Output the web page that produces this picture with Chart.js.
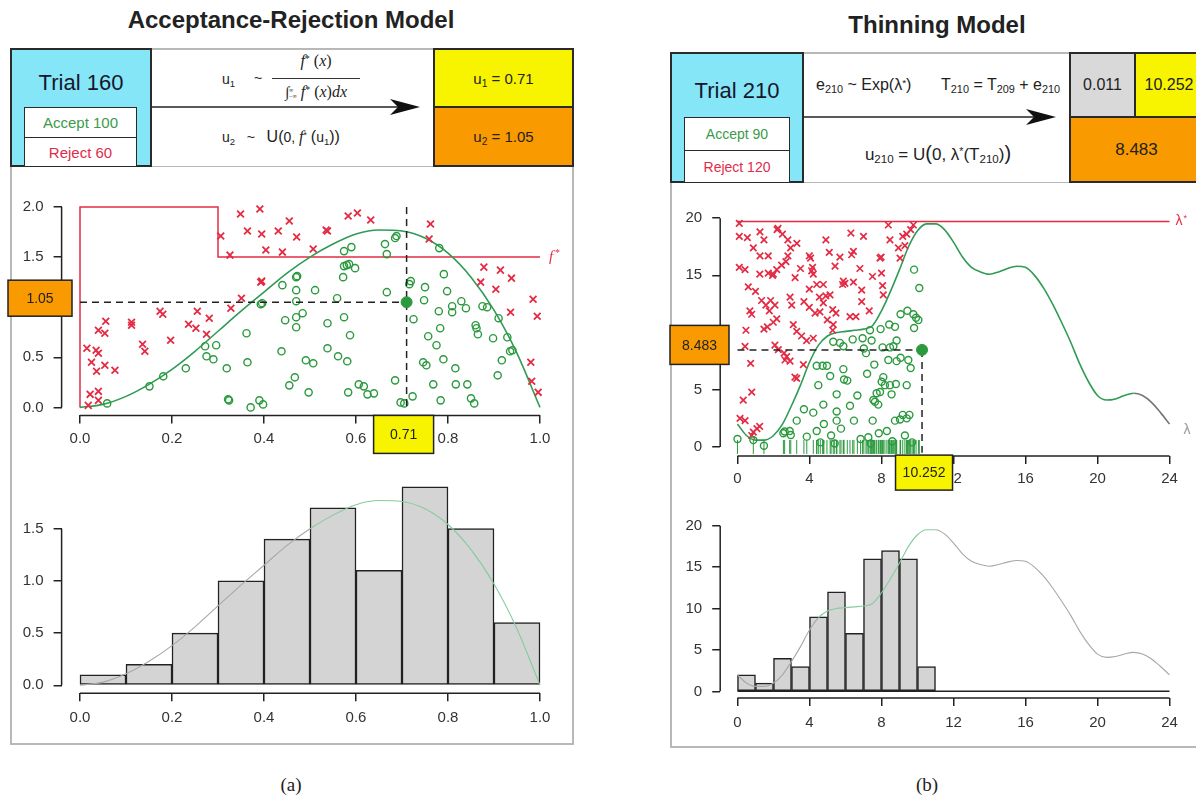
<!DOCTYPE html>
<html><head><meta charset="utf-8">
<script src="https://cdn.jsdelivr.net/npm/chart.js@4.4.1/dist/chart.umd.min.js"></script>
<style>
html,body{margin:0;padding:0;background:#fff;}
body{width:1196px;height:803px;overflow:hidden;position:relative;font-family:'Liberation Sans',Arial,Helvetica,sans-serif;color:#222;}
.abs{position:absolute;}
.bx{position:absolute;box-sizing:border-box;display:flex;align-items:center;justify-content:center;}
sub{font-size:0.68em;vertical-align:-0.3em;line-height:0;}
sup{font-size:0.62em;vertical-align:0.45em;line-height:0;}
.ser{font-family:'Liberation Serif','Times New Roman',serif;}
canvas{position:absolute;}
</style></head><body>

<!-- titles -->
<div class="abs" style="left:91px;top:5px;width:400px;text-align:center;font-weight:bold;font-size:24px;line-height:30px;">Acceptance-Rejection Model</div>
<div class="abs" style="left:787px;top:10px;width:300px;text-align:center;font-weight:bold;font-size:24px;line-height:30px;">Thinning Model</div>

<!-- left panel -->
<div class="abs" style="left:10px;top:48px;width:564px;height:697px;box-sizing:border-box;border:2px solid #b8b8b8;"></div>
<div class="abs" style="left:10px;top:166px;width:564px;height:0;border-top:1.5px solid #b8b8b8;"></div>
<div class="bx" style="left:10px;top:48px;width:142px;height:119px;background:#84e6f6;border:2px solid #2a2a2a;"></div>
<div class="abs" style="left:10px;top:70px;width:142px;text-align:center;font-size:22px;line-height:26px;color:#16162c;">Trial 160</div>
<div class="abs" style="left:24px;top:107px;width:113px;height:60px;box-sizing:border-box;border:1.5px solid #2a2a2a;background:#fff;"></div>
<div class="abs" style="left:24px;top:137px;width:113px;height:0;border-top:1.5px solid #2a2a2a;"></div>
<div class="bx" style="left:24px;top:108px;width:113px;height:29px;font-size:15px;color:#3c9a4a;"><span>Accept 100</span></div>
<div class="bx" style="left:24px;top:137px;width:113px;height:30px;font-size:15px;color:#e02c4a;"><span>Reject 60</span></div>

<svg class="abs" style="left:152px;top:97px;" width="275" height="20">
<line x1="0" y1="10" x2="250" y2="10" stroke="#222" stroke-width="1.6"/>
<path d="M268,10 L238,2 L246,10 L238,18 Z" fill="#111"/>
</svg>

<div class="abs" style="left:222px;top:70px;font-size:14px;line-height:18px;">u<sub>1</sub></div>
<div class="abs" style="left:254px;top:69px;font-size:14px;line-height:18px;">~</div>
<div class="abs ser" style="left:272px;top:52px;width:88px;text-align:center;font-size:16px;line-height:18px;"><i>f</i><sup>*</sup> (<i>x</i>)</div>
<div class="abs" style="left:272px;top:78px;width:88px;height:0;border-top:1.3px solid #333;"></div>
<div class="abs ser" style="left:272px;top:83px;width:88px;text-align:center;font-size:16px;line-height:18px;white-space:nowrap;"><span style="font-size:15px">&#8747;</span><span style="display:inline-block;font-size:6px;line-height:6px;vertical-align:middle;text-align:left;">&#8734;<br>&#8722;&#8734;</span> <i>f</i><sup>*</sup> (<i>x</i>)<i>dx</i></div>
<div class="abs" style="left:222px;top:128px;font-size:14px;line-height:18px;white-space:nowrap;">u<sub>2</sub>&nbsp;&nbsp; ~ &nbsp;&nbsp;<span style="font-size:16px">U(</span>0, <i class="ser" style="font-size:16px">f</i><sup>*</sup> <span style="font-size:16px">(</span>u<sub>1</sub><span style="font-size:16px">))</span></div>

<div class="bx" style="left:433px;top:48px;width:141px;height:60px;background:#f8f400;border:2px solid #2a2a2a;font-size:15px;"><span>u<sub>1</sub> = 0.71</span></div>
<div class="bx" style="left:433px;top:106px;width:141px;height:61px;background:#f99a00;border:2px solid #2a2a2a;font-size:15px;"><span>u<sub>2</sub> = 1.05</span></div>

<!-- right panel -->
<div class="abs" style="left:670px;top:52px;width:545px;height:696px;box-sizing:border-box;border:2px solid #b8b8b8;"></div>
<div class="abs" style="left:670px;top:182px;width:545px;height:0;border-top:1.5px solid #b8b8b8;"></div>
<div class="bx" style="left:670px;top:52px;width:134px;height:131px;background:#84e6f6;border:2px solid #2a2a2a;"></div>
<div class="abs" style="left:670px;top:78px;width:134px;text-align:center;font-size:22px;line-height:26px;color:#16162c;">Trial 210</div>
<div class="abs" style="left:684px;top:117px;width:106px;height:66px;box-sizing:border-box;border:1.5px solid #2a2a2a;background:#fff;"></div>
<div class="abs" style="left:684px;top:150px;width:106px;height:0;border-top:1.5px solid #2a2a2a;"></div>
<div class="bx" style="left:684px;top:118px;width:106px;height:32px;font-size:14px;color:#3c9a4a;"><span>Accept 90</span></div>
<div class="bx" style="left:684px;top:150px;width:106px;height:33px;font-size:14px;color:#e02c4a;"><span>Reject 120</span></div>

<svg class="abs" style="left:804px;top:107px;" width="260" height="20">
<line x1="0" y1="10" x2="235" y2="10" stroke="#222" stroke-width="1.6"/>
<path d="M252,10 L222,2 L230,10 L222,18 Z" fill="#111"/>
</svg>

<div class="abs" style="left:816px;top:75px;font-size:16px;line-height:20px;white-space:nowrap;">e<sub>210</sub> ~ Exp(&#955;<sup>*</sup>)</div>
<div class="abs" style="left:941px;top:75px;font-size:16px;line-height:20px;white-space:nowrap;">T<sub>210</sub> = T<sub>209</sub> + e<sub>210</sub></div>
<div class="abs" style="left:838px;top:142px;width:200px;text-align:center;font-size:17px;line-height:22px;white-space:nowrap;">u<sub>210</sub> = U<span style="font-size:20px">(</span>0, &#955;<sup>*</sup>(T<sub>210</sub>)<span style="font-size:20px">)</span></div>

<div class="bx" style="left:1069px;top:52px;width:67px;height:66px;background:#d9d9d9;border:2px solid #2a2a2a;font-size:16px;"><span>0.011</span></div>
<div class="bx" style="left:1134px;top:52px;width:70px;height:66px;background:#f8f400;border:2px solid #2a2a2a;font-size:16px;"><span>10.252</span></div>
<div class="bx" style="left:1069px;top:116px;width:135px;height:67px;background:#f99a00;border:2px solid #2a2a2a;font-size:17px;"><span>8.483</span></div>

<div class="abs ser" style="left:241px;top:773px;width:100px;text-align:center;font-size:19px;line-height:24px;">(a)</div>
<div class="abs ser" style="left:877px;top:773px;width:100px;text-align:center;font-size:19px;line-height:24px;">(b)</div>

<canvas id="c1" width="580" height="280" style="left:0px;top:180px;"></canvas>
<canvas id="c2" width="580" height="285" style="left:0px;top:460px;"></canvas>
<canvas id="c3" width="536" height="310" style="left:660px;top:190px;"></canvas>
<canvas id="c4" width="536" height="245" style="left:660px;top:500px;"></canvas>

<script>
// ================= DATA =================
// (a) Acceptance-Rejection
const leftXTicks = [0, 0.2, 0.4, 0.6, 0.8, 1.0];
const leftScatterYTicks = [0, 0.5, 1.0, 1.5, 2.0];
const leftHistYTicks = [0, 0.5, 1.0, 1.5];
const fStarX = [0, 0, 0.3, 0.83, 1.0];
const fStarY = [0, 1.0, 2.0, 1.5, 1.5];
const fCurveX = [0,0.05,0.1,0.15,0.2,0.25,0.3,0.35,0.4,0.45,0.5,0.55,0.6,0.65,0.7,0.75,0.8,0.85,0.9,0.95,1.0];
const fCurveY = [0,0.03,0.11,0.23,0.38,0.56,0.76,0.96,1.15,1.34,1.5,1.63,1.73,1.77,1.76,1.69,1.54,1.3,0.97,0.54,0];
const u1 = 0.71, u2 = 1.05, fStarAtU1 = 2.0;
const leftRejX = [0.018,0.022,0.04,0.04,0.025,0.036,0.015,0.035,0.04,0.054,0.076,0.04,0.054,0.056,0.112,0.112,0.136,0.141,0.174,0.18,0.197,0.255,0.236,0.252,0.281,0.275,0.306,0.326,0.349,0.364,0.391,0.395,0.404,0.431,0.44,0.455,0.471,0.393,0.395,0.351,0.328,0.507,0.535,0.583,0.603,0.632,0.762,0.759,0.878,0.914,0.938,0.871,0.904,0.985,0.994,0.936,0.98,0.982,0.996,0.538];
const leftRejY = [0.02,0.13,0.16,0.07,0.45,0.36,0.59,0.57,0.54,0.42,0.37,0.77,0.74,0.86,0.85,0.82,0.63,0.56,0.96,0.93,0.67,0.96,0.83,0.79,0.89,0.73,1.71,1.52,1.93,1.76,1.98,1.73,1.57,1.76,1.55,1.86,1.70,1.25,1.26,1.09,0.99,1.58,1.77,1.91,1.94,1.87,1.83,1.68,1.40,1.37,1.29,1.25,1.18,1.08,0.91,0.95,0.45,0.26,0.15,1.76];
const leftAccX = [0.059,0.151,0.181,0.23,0.272,0.296,0.275,0.29,0.319,0.322,0.324,0.362,0.364,0.371,0.39,0.398,0.393,0.396,0.44,0.446,0.438,0.455,0.467,0.47,0.472,0.47,0.47,0.47,0.47,0.484,0.511,0.538,0.538,0.561,0.491,0.507,0.497,0.559,0.574,0.587,0.581,0.574,0.59,0.574,0.58,0.585,0.598,0.572,0.583,0.606,0.617,0.625,0.639,0.705,0.663,0.667,0.685,0.688,0.667,0.685,0.697,0.719,0.716,0.725,0.723,0.748,0.75,0.781,0.78,0.783,0.757,0.775,0.746,0.753,0.79,0.816,0.768,0.784,0.817,0.842,0.85,0.857,0.791,0.798,0.809,0.809,0.829,0.839,0.875,0.885,0.86,0.862,0.865,0.898,0.91,0.929,0.935,0.94,0.917,0.908];
const leftAccY = [0.04,0.21,0.31,0.39,0.61,0.62,0.51,0.48,0.39,0.08,0.07,0.74,0.45,0.00,0.07,0.03,1.03,1.04,1.22,0.87,0.56,0.22,0.30,1.30,1.31,1.17,1.06,0.90,0.80,0.94,1.17,0.84,0.59,0.51,0.47,0.44,0.15,1.09,0.90,0.72,0.46,1.56,1.60,1.41,1.42,1.43,1.39,1.30,0.15,0.23,0.21,0.13,0.14,0.04,1.63,1.53,1.69,1.71,1.15,0.27,0.05,1.26,1.23,0.88,0.11,1.07,1.20,1.59,0.96,0.79,0.71,0.62,0.45,0.42,0.48,0.39,0.23,0.07,0.23,0.23,0.09,0.04,1.33,1.16,1.01,0.95,1.06,0.99,1.01,1.00,0.82,0.79,0.73,0.69,0.89,0.70,0.56,0.57,0.47,0.32];
const leftHistMid = [0.05,0.15,0.25,0.35,0.45,0.55,0.65,0.75,0.85,0.95];
const leftHistDensity = [0.1,0.2,0.5,1.0,1.4,1.7,1.1,1.9,1.5,0.6];

// (b) Thinning
const rightXTicks = [0, 4, 8, 12, 16, 20, 24];
const rightYTicks = [0, 5, 10, 15, 20];
const lambdaStar = 19.7;
const lamT = [0,0.5,1,1.5,2,2.5,3,3.5,4,4.5,5,5.5,6,6.5,7,7.5,8,8.5,9,9.5,10,10.5,11,11.5,12,12.5,13,13.5,14,14.5,15,15.5,16,16.5,17,17.5,18,18.5,19,19.5,20,20.5,21,21.5,22,22.5,23,23.5,24];
const lamY = [2.0,1.0,0.6,0.6,1.0,2.0,3.6,5.4,7.4,8.9,9.7,10.0,10.1,10.2,10.3,10.6,11.9,13.6,15.5,17.5,18.9,19.5,19.5,19.0,17.9,16.6,15.7,15.3,15.1,15.3,15.6,15.8,15.7,15.0,13.9,12.5,10.9,9.2,7.3,5.7,4.5,4.1,4.2,4.5,4.7,4.5,3.9,3.0,2.0];
const T210 = 10.252, U210 = 8.483;
const rightRejX = [0.1,0.1,0.55,1.25,1.47,0.88,1.25,1.71,0.1,0.42,1.24,1.71,1.95,2.2,2.25,2.5,2.8,2.95,2.8,2.69,2.45,2.18,1.99,3.99,4.06,4.12,4.21,4.17,4.77,4.91,5.42,5.69,5.88,6.44,6.3,6.44,6.34,7.0,7.92,7.98,8.0,8.38,8.47,8.94,9.03,9.18,9.4,9.62,9.77,9.3,0.69,0.79,1.34,1.58,1.84,2.08,1.77,1.47,1.66,1.99,2.18,0.47,0.42,0.73,2.92,3.01,3.1,3.29,3.56,3.84,4.21,3.69,3.99,4.31,3.99,4.4,4.55,4.91,5.14,4.77,4.58,4.99,5.29,5.47,5.32,5.29,5.84,5.97,6.25,6.58,6.9,6.9,7.32,8.1,8.06,2.59,2.73,2.64,2.92,3.19,3.29,3.66,2.08,2.27,0.32,0.79,0.14,0.42,1.23,1.08,0.88,0.79,3.2,3.5,3.3,5.1,6.8,7.5,0.6,1.0];
const rightRejY = [19.55,18.4,18.3,18.8,18.1,17.4,16.7,16.7,15.7,15.5,15.1,15.2,15.0,19.0,19.1,18.6,18.1,17.4,16.7,16.2,15.9,15.5,15.1,16.7,16.5,15.4,15.1,15.7,14.2,18.1,15.8,16.6,14.5,14.4,18.7,17.1,16.8,18.4,16.5,16.6,15.2,19.4,18.1,17.4,16.5,18.4,18.6,19.0,19.4,17.6,11.9,11.6,12.8,12.4,12.8,12.4,11.9,10.3,10.5,10.9,11.2,10.2,8.8,7.3,13.1,12.4,10.7,10.1,9.7,9.3,9.5,12.7,12.2,11.7,13.8,14.2,13.1,13.2,13.3,12.6,11.8,11.1,12.0,11.7,10.7,10.2,14.2,14.3,11.4,11.4,13.7,12.7,11.9,13.3,14.1,8.2,7.9,7.6,7.5,6.1,6.0,7.2,8.9,8.5,4.1,4.8,2.5,2.3,1.8,1.6,1.3,1.0,14.8,15.6,17.8,17.0,15.6,14.9,14.0,13.6];
const rightAccX = [0.0,0.88,1.47,2.55,2.62,2.9,2.96,3.29,3.69,3.85,4.21,4.4,4.49,4.4,4.73,4.97,4.77,4.8,4.6,5.51,5.51,5.51,5.88,5.92,5.32,5.69,5.88,5.2,5.4,5.75,5.15,6.1,6.4,6.95,6.66,6.47,6.84,6.25,7.27,7.02,7.14,7.36,7.51,7.55,7.64,7.82,7.73,7.92,7.95,7.2,7.45,7.6,7.85,7.4,8.01,8.19,8.1,8.47,8.56,8.8,8.43,8.75,8.06,8.47,8.66,8.84,8.38,8.84,8.75,8.3,8.6,9.06,9.49,9.62,9.4,9.03,9.18,9.4,9.55,9.06,9.44,9.77,9.92,9.81,9.81,9.3,9.7,10.05,10.1];
const rightAccY = [0.7,0.6,0.1,1.2,1.35,1.4,1.05,2.3,3.3,0.9,3.0,1.4,5.4,7.1,7.1,7.1,3.7,2.0,0.4,4.6,3.1,2.3,6.8,5.9,9.2,9.1,8.8,1.0,0.3,1.6,6.2,5.8,9.4,9.5,4.5,2.3,0.7,3.6,0.85,8.6,8.2,10.2,2.3,4.1,3.95,3.7,4.7,4.8,10.3,6.4,9.3,7.2,1.2,0.3,5.7,5.4,6.1,5.4,4.6,5.5,10.7,10.5,8.7,8.7,8.8,9.3,7.6,7.5,2.3,1.4,0.5,7.8,7.6,6.9,5.4,2.4,2.8,2.5,2.8,11.6,11.9,11.6,11.3,10.4,15.5,1.0,0.4,11.1,13.9];
const rightHistMid = [0.5,1.5,2.5,3.5,4.5,5.5,6.5,7.5,8.5,9.5,10.5,11.5,12.5,13.5,14.5,15.5,16.5,17.5,18.5,19.5,20.5,21.5,22.5,23.5];
const rightHistCount = [2,1,4,3,9,12,7,16,17,16,3,0,0,0,0,0,0,0,0,0,0,0,0,0];

// ================= STYLE / HELPERS =================
const FONT = "'Liberation Sans', Arial, Helvetica, sans-serif";
const RED = '#e32c44', GREEN = '#2b9a3e', GREEN_LINE = '#2f9b55', ORANGE = '#f99a00', YELLOW = '#f8f400';
Chart.defaults.font.family = FONT;
const pts = (xs, ys) => xs.map((x, i) => ({x: x, y: ys[i]}));
const f1 = v => Number(v).toFixed(1), f0 = v => String(Math.round(v));

function rScale(axis, min, max, ticks, fmt, size, pad){
  return {
    type: 'linear', min: min, max: max, offset: false,
    afterBuildTicks: s => { s.ticks = ticks.map(v => ({value: v})); },
    afterFit: s => { if (axis === 'x') s.height = size; else s.width = size; },
    grid: {display: true, drawOnChartArea: false, drawTicks: true, tickLength: 8, color: '#222', lineWidth: 1.5, offset: false},
    border: {display: false},
    ticks: {callback: v => fmt(v), font: {family: FONT, size: 15}, color: '#333', padding: pad, maxRotation: 0, autoSkip: false}
  };
}
const rAxes = { id: 'rAxes', afterDraw(chart){
  const {ctx, chartArea: a, scales: {x, y}} = chart;
  ctx.save(); ctx.strokeStyle = '#222'; ctx.lineWidth = 1.5; ctx.beginPath();
  const xt = x.ticks, yt = y.ticks;
  ctx.moveTo(x.getPixelForValue(xt[0].value), a.bottom); ctx.lineTo(x.getPixelForValue(xt[xt.length-1].value), a.bottom);
  ctx.moveTo(a.left, y.getPixelForValue(yt[0].value)); ctx.lineTo(a.left, y.getPixelForValue(yt[yt.length-1].value));
  ctx.stroke(); ctx.restore();
}};
function box(ctx, cx, cy, w, h, fill, text, fs){
  ctx.save(); ctx.fillStyle = fill; ctx.fillRect(cx-w/2, cy-h/2, w, h);
  ctx.lineWidth = 1.5; ctx.strokeStyle = '#222'; ctx.strokeRect(cx-w/2, cy-h/2, w, h);
  ctx.fillStyle = '#222'; ctx.font = (fs || 14) + 'px ' + FONT; ctx.textAlign = 'center'; ctx.textBaseline = 'middle';
  ctx.fillText(text, cx, cy + 1); ctx.restore();
}
const baseOpts = (pad, scales) => ({
  responsive: false, animation: false, devicePixelRatio: 1, events: [],
  layout: {padding: pad},
  plugins: {legend: {display: false}, tooltip: {enabled: false}},
  scales: scales
});
const dashed = (data) => ({data: data, showLine: true, borderColor: '#222', borderWidth: 1.5, borderDash: [7, 5], pointRadius: 0, order: 1});

// ================= (a) scatter =================
const ov1 = { id: 'ov1', afterDraw(chart){
  const {ctx, chartArea: a, scales: {x, y}} = chart;
  box(ctx, 40, y.getPixelForValue(u2) - 4, 64, 36, ORANGE, u2.toFixed(2));
  box(ctx, x.getPixelForValue(u1) - 3, a.bottom + 19, 60, 38, YELLOW, u1.toFixed(2));
  ctx.save(); ctx.fillStyle = RED; ctx.textBaseline = 'middle'; ctx.textAlign = 'left';
  const px = x.getPixelForValue(fStarX[fStarX.length-1]) + 9, py = y.getPixelForValue(fStarY[fStarY.length-1]);
  ctx.font = "italic 15px 'Liberation Serif', serif"; ctx.fillText('f', px, py);
  ctx.font = "10px 'Liberation Serif', serif"; ctx.fillText('*', px + 6, py - 4);
  ctx.restore();
}};
new Chart(document.getElementById('c1'), {
  type: 'scatter',
  data: {datasets: [
    dashed([{x: 0, y: u2}, {x: u1, y: u2}]),
    dashed([{x: u1, y: fStarAtU1}, {x: u1, y: 0}]),
    {data: [{x: u1, y: u2}], pointRadius: 5.5, backgroundColor: GREEN, borderColor: GREEN, order: 0},
    {data: pts(leftAccX, leftAccY), pointStyle: 'circle', pointRadius: 3.6, borderColor: GREEN, backgroundColor: 'rgba(0,0,0,0)', borderWidth: 1.4, pointBorderWidth: 1.4, order: 3},
    {data: pts(leftRejX, leftRejY), pointStyle: 'crossRot', pointRadius: 4.8, borderColor: RED, borderWidth: 1.8, pointBorderWidth: 1.8, order: 3},
    {data: pts(fCurveX, fCurveY), showLine: true, borderColor: GREEN_LINE, borderWidth: 1.6, pointRadius: 0, cubicInterpolationMode: 'monotone', order: 4},
    {data: pts(fStarX, fStarY), showLine: true, stepped: 'after', borderColor: RED, borderWidth: 1.5, pointRadius: 0, order: 5}
  ]},
  options: baseOpts({left: 0, right: 21.6, top: 9.6, bottom: 0}, {
    x: rScale('x', -0.04, 1.04, leftXTicks, f1, 44.6, 6),
    y: rScale('y', -0.08, 2.08, leftScatterYTicks, f1, 61.6, 10)
  }),
  plugins: [rAxes, ov1]
});

// ================= (a) histogram =================
new Chart(document.getElementById('c2'), {
  type: 'bar',
  data: {datasets: [
    {type: 'line', data: pts(fCurveX, fCurveY), borderWidth: 1.1, pointRadius: 0, cubicInterpolationMode: 'monotone', borderColor: '#a8a8a8',
     segment: {borderColor: c => c.p0.parsed.x >= 0.5 ? '#86cc9e' : '#a8a8a8'}, order: 0},
    {type: 'bar', data: pts(leftHistMid, leftHistDensity), backgroundColor: '#d4d4d4', borderColor: '#222', borderWidth: 1.5, borderSkipped: false,
     barPercentage: 1, categoryPercentage: 1, order: 1}
  ]},
  options: baseOpts({left: 0, right: 21.6, top: 10.8, bottom: 0}, {
    x: rScale('x', -0.04, 1.04, leftXTicks, f1, 51.8, 8),
    y: rScale('y', -0.076, 1.976, leftHistYTicks, f1, 61.6, 10)
  }),
  plugins: [rAxes]
});

// ================= (b) scatter =================
const ov3 = { id: 'ov3', afterDraw(chart){
  const {ctx, chartArea: a, scales: {x, y}} = chart;
  box(ctx, 39.5, y.getPixelForValue(U210) - 5, 59, 39, ORANGE, U210.toFixed(3));
  box(ctx, x.getPixelForValue(T210) + 2, a.bottom + 16.5, 57, 35, YELLOW, T210.toFixed(3));
  ctx.save(); ctx.textBaseline = 'middle'; ctx.textAlign = 'left';
  const xe = x.getPixelForValue(lamT[lamT.length-1]);
  ctx.fillStyle = RED; ctx.font = '14px ' + FONT; ctx.fillText('\u03bb', xe + 6, y.getPixelForValue(lambdaStar));
  ctx.font = '9px ' + FONT; ctx.fillText('*', xe + 14, y.getPixelForValue(lambdaStar) - 3);
  ctx.fillStyle = '#999'; ctx.font = '14px ' + FONT; ctx.fillText('\u03bb', xe + 14, y.getPixelForValue(lamY[lamY.length-1]) + 6);
  ctx.restore();
}};
new Chart(document.getElementById('c3'), {
  type: 'scatter',
  data: {datasets: [
    dashed([{x: 0, y: U210}, {x: T210, y: U210}]),
    dashed([{x: T210, y: U210}, {x: T210, y: -0.5}]),
    {data: [{x: T210, y: U210}], pointRadius: 5.5, backgroundColor: GREEN, borderColor: GREEN, order: 0},
    {data: rightAccX.map(v => ({x: v, y: 0})), pointStyle: 'line', pointRotation: 90, pointRadius: 7, borderColor: GREEN, borderWidth: 1, pointBorderWidth: 1, order: 3},
    {data: pts(rightAccX, rightAccY), pointStyle: 'circle', pointRadius: 3.5, borderColor: GREEN, backgroundColor: 'rgba(0,0,0,0)', borderWidth: 1.4, pointBorderWidth: 1.4, order: 3},
    {data: pts(rightRejX, rightRejY), pointStyle: 'crossRot', pointRadius: 4.6, borderColor: RED, borderWidth: 1.7, pointBorderWidth: 1.7, order: 3},
    {data: pts(lamT, lamY), showLine: true, borderColor: GREEN_LINE, borderWidth: 1.6, pointRadius: 0, cubicInterpolationMode: 'monotone',
     segment: {borderColor: c => c.p0.parsed.x >= 22 ? '#777' : GREEN_LINE}, order: 4},
    {data: [{x: lamT[0], y: lambdaStar}, {x: lamT[lamT.length-1], y: lambdaStar}], showLine: true, borderColor: RED, borderWidth: 1.5, pointRadius: 0, order: 5}
  ]},
  options: baseOpts({left: 0, right: 9.2, top: 11.3, bottom: 0}, {
    x: rScale('x', -0.96, 24.96, rightXTicks, f0, 43.9, 6),
    y: rScale('y', -0.8, 20.8, rightYTicks, f0, 60.2, 10)
  }),
  plugins: [rAxes, ov3]
});

// ================= (b) histogram =================
new Chart(document.getElementById('c4'), {
  type: 'bar',
  data: {datasets: [
    {type: 'line', data: pts(lamT, lamY), borderWidth: 1.1, pointRadius: 0, cubicInterpolationMode: 'monotone', borderColor: '#a8a8a8',
     segment: {borderColor: c => (c.p0.parsed.x >= 4.5 && c.p0.parsed.x < 11) ? '#86cc9e' : '#a8a8a8'}, order: 0},
    {type: 'line', data: [{x: rightHistMid[0] - 0.5, y: 0}, {x: rightHistMid[rightHistMid.length-1] + 0.5, y: 0}], borderColor: '#222', borderWidth: 1.5, pointRadius: 0, order: 1},
    {type: 'bar', data: pts(rightHistMid, rightHistCount), backgroundColor: '#d4d4d4', borderColor: '#222', borderWidth: 1.5, borderSkipped: false,
     barPercentage: 1, categoryPercentage: 1, order: 2}
  ]},
  options: baseOpts({left: 0, right: 9.2, top: 8, bottom: 0}, {
    x: rScale('x', -0.96, 24.96, rightXTicks, f0, 47, 8),
    y: rScale('y', -0.8, 20.8, rightYTicks, f0, 60.2, 10)
  }),
  plugins: [rAxes]
});
</script>
</body></html>
